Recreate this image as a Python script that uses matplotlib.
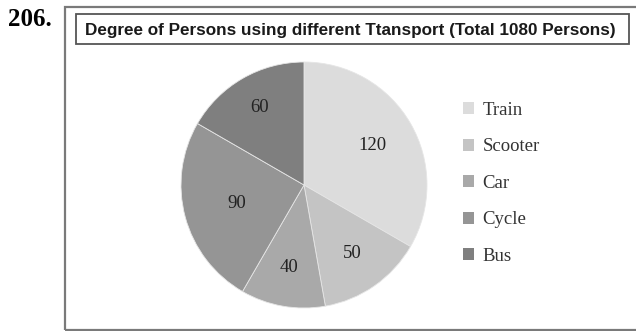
import numpy as np
import matplotlib.pyplot as plt
from matplotlib.patches import Rectangle

# datos del grafico
transport = ['Train', 'Scooter', 'Car', 'Cycle', 'Bus']
degrees = [120, 50, 40, 90, 60]
colors = ['#dcdcdc', '#c4c4c4', '#a9a9a9', '#959595', '#7f7f7f']
label_dist = [0.64, 0.68, 0.68, 0.57, 0.73]   # distancia radial de cada etiqueta

W, H = 636, 331
fig = plt.figure(figsize=(W/100, H/100), dpi=100)

# marco exterior (se corta por la derecha y abajo) y caja del titulo
fig.patches.append(Rectangle((65/W, 1-330/H), (660-65)/W, (330-7)/H,
                             transform=fig.transFigure, fill=False,
                             edgecolor='#7a7a7a', lw=1.6))
fig.patches.append(Rectangle((76/W, 1-44/H), (629-76)/W, (44-14)/H,
                             transform=fig.transFigure, fill=False,
                             edgecolor='#555555', lw=1.3))

fig.text(8/W, 1-20/H, '206.', fontsize=18, fontweight='bold',
         family='Liberation Serif', va='center', ha='left')
fig.text(350/W, 1-30/H,
         'Degree of Persons using different Ttansport (Total 1080 Persons)',
         fontsize=12.3, fontweight='bold', family='Liberation Sans',
         va='center', ha='center', color='#1a1a1a')

# pie
cx, cy, r = 304, 185, 123
ax = fig.add_axes([(cx-r)/W, (H-cy-r)/H, 2*r/W, 2*r/H])
wedges, texts = ax.pie(degrees, labels=[str(d) for d in degrees], colors=colors,
                       startangle=90, counterclock=False, labeldistance=0.66,
                       wedgeprops=dict(edgecolor='#e6e6e6', linewidth=0.6),
                       textprops=dict(fontsize=13.5, family='Liberation Serif',
                                      color='#222222', ha='center', va='center'))
# recolocar etiquetas sobre el angulo medio de cada sector
for w, t, d in zip(wedges, texts, label_dist):
    ang = np.deg2rad((w.theta1 + w.theta2) / 2)
    t.set_position((d*np.cos(ang), d*np.sin(ang)))
    t.set_ha('center')
ax.set_xlim(-1, 1)
ax.set_ylim(-1, 1)
ax.set_aspect('equal')
ax.axis('off')

# leyenda
handles = [Rectangle((0, 0), 1, 1, facecolor=c, edgecolor='none') for c in colors]
fig.legend(handles, transport, loc='upper left', bbox_to_anchor=(446/W, 1-85/H),
           frameon=False, prop=dict(family='Liberation Serif', size=13.5),
           handlelength=0.6, handleheight=0.6, handletextpad=0.45,
           labelspacing=1.04, labelcolor='#333333')

fig.savefig('out.png', dpi=100)
